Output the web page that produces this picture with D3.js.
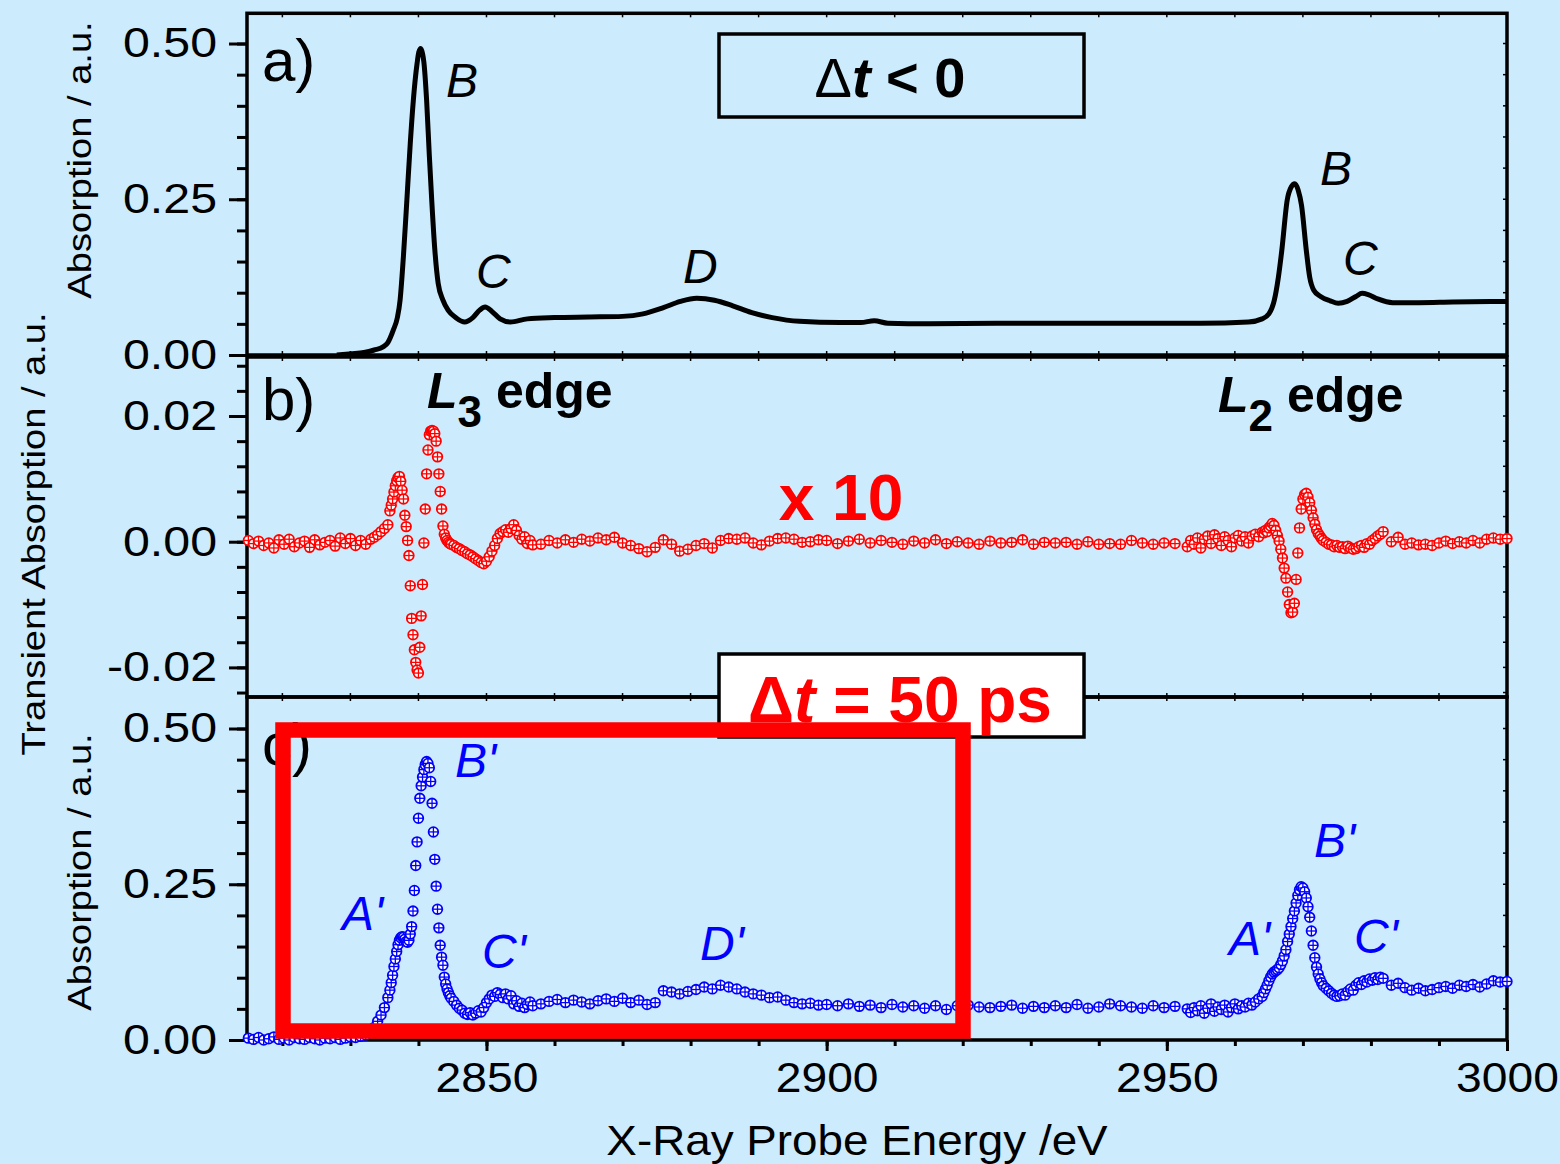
<!DOCTYPE html>
<html>
<head>
<meta charset="utf-8">
<script src="https://cdn.jsdelivr.net/npm/d3@7"></script>
<style>
  html, body { margin: 0; padding: 0; background: #ccebfc; }
  svg { display: block; }
  text { font-family: "Liberation Sans", Arial, sans-serif; }
</style>
</head>
<body>
<div id="vis"></div>
<script>
// ---- data ----

// panel a: static spectrum (dt < 0), black line
const refEnergy = [2828, 2830, 2832, 2833.5, 2834.8, 2835.5, 2836.3, 2836.9, 2837.3, 2837.8,
  2838.3, 2838.8, 2839.25, 2839.8, 2840.05, 2840.33, 2840.6, 2840.8, 2841.2, 2841.6,
  2841.95, 2842.4, 2842.9, 2843.6, 2844.35, 2845.5, 2846.8, 2848.0, 2849.0, 2849.8,
  2850.8, 2852.0, 2853.5, 2856.0, 2860.0, 2865.0, 2870.0, 2873.0, 2876.0, 2878.5,
  2880.9, 2883.5, 2886.2, 2889.0, 2892.0, 2896.0, 2902.0, 2905.0, 2907.0, 2909.0,
  2915.0, 2925.0, 2935.0, 2945.0, 2955.0, 2962.0, 2964.0, 2965.0, 2965.8, 2966.4,
  2966.9, 2967.7, 2968.3, 2968.8, 2969.3, 2969.8, 2970.5, 2971.0, 2971.6, 2972.6,
  2974.0, 2975.2, 2976.5, 2977.8, 2978.7, 2979.6, 2981.0, 2983.2, 2987.0, 2992.0, 3000.0];
const refAbsorption = [0.000, 0.002, 0.004, 0.008, 0.013, 0.020, 0.040, 0.060, 0.088, 0.160,
  0.249, 0.340, 0.409, 0.468, 0.486, 0.492, 0.484, 0.470, 0.409, 0.320,
  0.249, 0.170, 0.115, 0.088, 0.072, 0.060, 0.053, 0.060, 0.072, 0.077,
  0.070, 0.058, 0.053, 0.058, 0.060, 0.061, 0.062, 0.066, 0.076, 0.086,
  0.091, 0.088, 0.079, 0.068, 0.060, 0.054, 0.052, 0.052, 0.055, 0.051,
  0.050, 0.051, 0.051, 0.051, 0.051, 0.053, 0.058, 0.066, 0.088, 0.125,
  0.168, 0.249, 0.270, 0.275, 0.265, 0.240, 0.168, 0.125, 0.104, 0.094,
  0.087, 0.083, 0.086, 0.094, 0.099, 0.097, 0.090, 0.084, 0.084, 0.085, 0.086];

// panels b and c share the probe energies
const energy = [
  2815, 2815.75, 2816.5, 2817.25, 2818, 2818.75, 2819.5, 2820.25, 2821, 2821.75, 2822.5, 2823.25, 2824,
  2824.75, 2825.5, 2826.25, 2827, 2827.75, 2828.5, 2829.25, 2830, 2830.75, 2831.5, 2832.25, 2833,
  2833.5, 2834, 2834.5, 2835, 2835.5,
  2835.8, 2836.0, 2836.2, 2836.4, 2836.6, 2836.8, 2837.0, 2837.2, 2837.4, 2837.6,
  2837.8, 2838.0, 2838.2, 2838.4, 2838.6, 2838.8, 2839.0, 2839.2, 2839.4, 2839.6,
  2839.8, 2840.0, 2840.2, 2840.4, 2840.6, 2840.8, 2841.0, 2841.2, 2841.4, 2841.6,
  2841.8, 2842.0, 2842.2, 2842.4, 2842.6, 2842.8, 2843.0, 2843.2, 2843.4, 2843.6,
  2843.8, 2844.0, 2844.2, 2844.4, 2844.6, 2844.8,
  2845.2, 2845.6, 2846.0, 2846.4, 2846.8, 2847.2, 2847.6, 2848.0, 2848.4, 2848.8,
  2849.2, 2849.6, 2850.0, 2850.4, 2850.8, 2851.2, 2851.6, 2852.0, 2852.4, 2852.8,
  2853.2, 2853.6, 2854.0, 2854.4, 2854.8, 2855.2, 2855.6, 2856.0, 2856.4, 2856.8,
  2858.0, 2859.2, 2860.4, 2861.6, 2862.8, 2864.0, 2865.2, 2866.4, 2867.6, 2868.8,
  2870.0, 2871.2, 2872.4, 2873.6, 2874.8, 2876.0, 2877.2, 2878.4, 2879.6, 2880.8,
  2882.0, 2883.2, 2884.4, 2885.6, 2886.8, 2888.0, 2889.2, 2890.4, 2891.6, 2892.8,
  2894.0, 2895.2, 2896.4, 2897.6, 2898.8,
  2900.0, 2901.6, 2903.2, 2904.8, 2906.4, 2908.0, 2909.6, 2911.2, 2912.8, 2914.4,
  2916.0, 2917.6, 2919.2, 2920.8, 2922.4, 2924.0, 2925.6, 2927.2, 2928.8, 2930.4,
  2932.0, 2933.6, 2935.2, 2936.8, 2938.4, 2940.0, 2941.6, 2943.2, 2944.8, 2946.4,
  2948.0, 2949.6, 2951.2,
  2953.0, 2953.5, 2954.0, 2954.5, 2955.0, 2955.5, 2956.0, 2956.5, 2957.0, 2957.5,
  2958.0, 2958.5, 2959.0, 2959.5, 2960.0, 2960.5, 2961.0, 2961.5, 2962.0, 2962.5,
  2963.0, 2963.5, 2964.0,
  2964.25, 2964.5, 2964.75, 2965.0, 2965.25, 2965.5, 2965.75, 2966.0, 2966.25, 2966.5,
  2966.75, 2967.0, 2967.25, 2967.5, 2967.75, 2968.0, 2968.25, 2968.5, 2968.75, 2969.0,
  2969.25, 2969.5, 2969.75, 2970.0, 2970.25, 2970.5, 2970.75, 2971.0, 2971.25, 2971.5,
  2971.75, 2972.0, 2972.25, 2972.5, 2972.75, 2973.0,
  2973.4, 2973.8, 2974.2, 2974.6, 2975.0, 2975.4, 2975.8, 2976.2, 2976.6, 2977.0,
  2977.4, 2977.8, 2978.2, 2978.6, 2979.0, 2979.4, 2979.8, 2980.2, 2980.6, 2981.0,
  2981.4, 2981.8,
  2983, 2984, 2985, 2986, 2987, 2988, 2989, 2990, 2991, 2992, 2993, 2994, 2995, 2996, 2997, 2998, 2999, 3000
];

// panel b: transient absorption (x 10), red
const transient = [
  0.0002, -0.0003, 0.0001, -0.0006, -0.0002, -0.0010, 0.0003, -0.0004, 0.0004, -0.0008, -0.0002, 0.0001, -0.0009,
  0.0003, -0.0005, -0.0001, 0.0002, -0.0007, 0.0006, -0.0003, 0.0005, -0.0006, 0.0002, -0.0004, 0.0004,
  0.0007, 0.0011, 0.0016, 0.0021, 0.0027,
  0.0049, 0.0058, 0.0068, 0.0079, 0.0089, 0.0097, 0.0102, 0.0104, 0.0096, 0.0082,
  0.0068, 0.0042, 0.0024, 0.0002, -0.0022, -0.0070, -0.0122, -0.0148, -0.0172, -0.0192,
  -0.0204, -0.0209, -0.0168, -0.0118, -0.0068, -0.0002, 0.0052, 0.0108, 0.0146, 0.0170,
  0.0176, 0.0177, 0.0176, 0.0172, 0.0160, 0.0135, 0.0108, 0.0080, 0.0052, 0.0025,
  0.0012, 0.0006, 0.0002, -0.0001, -0.0003, -0.0004,
  -0.0006, -0.0009, -0.0011, -0.0014, -0.0016, -0.0019, -0.0021, -0.0024, -0.0027, -0.0030,
  -0.0033, -0.0035, -0.0031, -0.0024, -0.0015, -0.0006, 0.0005, 0.0013, 0.0016, 0.0019,
  0.0015, 0.0021, 0.0027, 0.0018, 0.0010, 0.0004, 0.0008, -0.0003, 0.0002, -0.0005,
  -0.0004, 0.0002, -0.0002, 0.0003, -0.0001, 0.0004, 0.0001, 0.0006, 0.0003, 0.0007,
  -0.0002, -0.0006, -0.0011, -0.0016, -0.0009, 0.0003, -0.0004, -0.0015, -0.0012, -0.0006,
  -0.0003, -0.0010, 0.0002, 0.0005, 0.0004, 0.0006, -0.0002, -0.0005, 0.0001, 0.0005,
  0.0006, 0.0004, -0.0001, 0.0000, 0.0003,
  0.0002, -0.0003, 0.0001, 0.0004, -0.0002, 0.0002, -0.0001, -0.0004, 0.0001, -0.0002,
  0.0003, -0.0003, 0.0000, -0.0002, -0.0004, 0.0001, -0.0002, -0.0001, 0.0003, -0.0004,
  -0.0001, -0.0002, -0.0001, -0.0004, 0.0000, -0.0004, -0.0003, -0.0004, 0.0002, -0.0002,
  -0.0004, -0.0002, -0.0003,
  -0.0008, 0.0002, -0.0004, 0.0006, -0.0010, 0.0004, 0.0009, -0.0003, 0.0011, 0.0005,
  -0.0006, 0.0008, 0.0002, -0.0008, 0.0006, 0.0010, 0.0001, 0.0008, -0.0002, 0.0009,
  0.0012, 0.0008, 0.0015,
  0.0014, 0.0018, 0.0016, 0.0022, 0.0025, 0.0029, 0.0026, 0.0018, 0.0010, 0.0001,
  -0.0012, -0.0026, -0.0042, -0.0058, -0.0080, -0.0100, -0.0113, -0.0112, -0.0098, -0.0060,
  -0.0018, 0.0022, 0.0052, 0.0068, 0.0075, 0.0077, 0.0071, 0.0062, 0.0050, 0.0038,
  0.0028, 0.0019, 0.0013, 0.0009, 0.0005, 0.0002,
  -0.0001, -0.0004, -0.0005, -0.0008, -0.0006, -0.0009, -0.0008, -0.0011, -0.0007, -0.0010,
  -0.0012, -0.0011, -0.0008, -0.0006, -0.0009, -0.0003, -0.0004, 0.0002, 0.0005, 0.0009,
  0.0012, 0.0016,
  0.0000, 0.0007, -0.0004, -0.0002, -0.0005, -0.0004, -0.0006, -0.0002, 0.0001, -0.0003, 0.0000, -0.0002, 0.0002, -0.0002, 0.0004, 0.0006, 0.0004, 0.0005
];

// panel c: absorption at dt = 50 ps, blue
const excited = [
  0.003, 0.001, 0.004, 0.000, 0.002, 0.005, 0.001, 0.003, 0.000, 0.004, 0.002, 0.001, 0.004,
  0.002, 0.000, 0.003, 0.002, 0.004, 0.001, 0.003, 0.005, 0.004, 0.006, 0.008, 0.012,
  0.020, 0.030, 0.040, 0.052, 0.068,
  0.080, 0.092, 0.104, 0.118, 0.130, 0.142, 0.153, 0.160, 0.164, 0.166,
  0.165, 0.162, 0.158, 0.157, 0.160, 0.170, 0.182, 0.207, 0.240, 0.280,
  0.318, 0.356, 0.388, 0.408, 0.422, 0.434, 0.442, 0.447, 0.444, 0.437,
  0.415, 0.380, 0.334, 0.290, 0.247, 0.210, 0.180, 0.152, 0.133, 0.120,
  0.101, 0.090, 0.082, 0.076, 0.071, 0.067,
  0.062, 0.056, 0.051, 0.048, 0.043, 0.041, 0.044, 0.040, 0.043, 0.047,
  0.045, 0.052, 0.060, 0.066, 0.072, 0.070, 0.076, 0.073, 0.068, 0.074,
  0.066, 0.071, 0.058, 0.063, 0.054, 0.059, 0.052, 0.057, 0.061, 0.055,
  0.058, 0.062, 0.065, 0.060, 0.064, 0.061, 0.058, 0.063, 0.066, 0.062,
  0.067, 0.060, 0.064, 0.057, 0.060, 0.079, 0.077, 0.074, 0.078, 0.081,
  0.085, 0.082, 0.088, 0.085, 0.082, 0.077, 0.074, 0.072, 0.068, 0.069,
  0.064, 0.060, 0.058, 0.059, 0.056,
  0.057, 0.055, 0.058, 0.054, 0.056, 0.052, 0.057, 0.053, 0.055, 0.051,
  0.055, 0.049, 0.055, 0.056, 0.053, 0.052, 0.054, 0.056, 0.051, 0.054,
  0.052, 0.055, 0.052, 0.057, 0.051, 0.053, 0.058, 0.055, 0.053, 0.051,
  0.055, 0.052, 0.054,
  0.050, 0.044, 0.052, 0.047, 0.055, 0.043, 0.051, 0.058, 0.046, 0.053,
  0.049, 0.056, 0.045, 0.052, 0.058, 0.050, 0.055, 0.053, 0.059, 0.056,
  0.061, 0.066, 0.070,
  0.076, 0.082, 0.088, 0.095, 0.101, 0.106, 0.109, 0.111, 0.113, 0.116,
  0.121, 0.127, 0.135, 0.145, 0.158, 0.170, 0.182, 0.195, 0.207, 0.220,
  0.232, 0.241, 0.246, 0.244, 0.238, 0.228, 0.214, 0.197, 0.175, 0.152,
  0.132, 0.117, 0.106, 0.098, 0.092, 0.087,
  0.083, 0.079, 0.075, 0.072, 0.070, 0.071, 0.074, 0.072, 0.078, 0.082,
  0.080, 0.088, 0.092, 0.089, 0.095, 0.093, 0.098, 0.096, 0.100, 0.097,
  0.101, 0.099,
  0.088, 0.091, 0.084, 0.080, 0.083, 0.079, 0.081, 0.084, 0.086, 0.083, 0.088, 0.086, 0.089, 0.085, 0.090, 0.095, 0.093, 0.094
];

const xTicks = [2850, 2900, 2950, 3000];
const absTicks = [0, 0.25, 0.5];
const transTicks = [-0.02, 0, 0.02];

if (energy.length !== transient.length || energy.length !== excited.length) {
    console.error("length mismatch", energy.length, transient.length, excited.length);
}

// ---- layout ----
const W = 1560, H = 1164;
const bg = "#ccebfc";
const plotLeft = 247, plotRight = 1507;

const svg = d3.select("#vis").append("svg")
    .attr("width", W)
    .attr("height", H);

svg.append("rect").attr("width", W).attr("height", H).attr("fill", bg);

const x = d3.scaleLinear().domain([2814.8, 3000]).range([plotLeft, plotRight]);
const xMinor = d3.range(2820, 3001, 10);

const panels = [
    { key: "a", top: 13.3, bottom: 355, domain: [0, 0.5485], ticks: absTicks, minor: d3.range(0, 0.55, 0.05), letter: "a)", letterY: 81 },
    { key: "b", top: 357, bottom: 697, domain: [-0.02471, 0.02939], ticks: transTicks, minor: d3.range(-0.024, 0.0285, 0.004), letter: "b)", letterY: 420 },
    { key: "c", top: 697, bottom: 1040, domain: [0, 0.5506], ticks: absTicks, minor: d3.range(0, 0.55, 0.05), letter: "c)", letterY: 765 }
];
panels.forEach(p => {
    p.y = d3.scaleLinear().domain(p.domain).range([p.bottom, p.top]);
});

const fmt = d => d3.format(".2f")(d).replace("\u2212", "-");

// stretch text horizontally a bit, the original fonts are wider than Arial
function widen(sel, k) {
    sel.each(function() {
        const w = this.getComputedTextLength();
        d3.select(this).attr("textLength", w * k).attr("lengthAdjust", "spacingAndGlyphs");
    });
}

panels.forEach(p => {
    const g = svg.append("g").attr("class", "panel-" + p.key);

    // tiny inside ticks on top / right / bottom
    const mirror = g.append("g").attr("stroke", "#000").attr("stroke-width", 1.5);
    mirror.selectAll(".tt").data(xMinor).enter().append("line")
        .attr("x1", d => x(d)).attr("x2", d => x(d))
        .attr("y1", p.top).attr("y2", p.top + 4);
    if (p.key !== "c") {
        mirror.selectAll(".tb").data(xMinor).enter().append("line")
            .attr("x1", d => x(d)).attr("x2", d => x(d))
            .attr("y1", p.bottom).attr("y2", p.bottom - 4);
    }
    mirror.selectAll(".tr").data(p.minor).enter().append("line")
        .attr("x1", plotRight).attr("x2", plotRight - 4)
        .attr("y1", d => p.y(d)).attr("y2", d => p.y(d));

    // left axis, minor then major
    const minorAxis = g.append("g")
        .attr("transform", `translate(${plotLeft},0)`)
        .call(d3.axisLeft(p.y).tickValues(p.minor).tickSize(10).tickFormat(""));
    minorAxis.select(".domain").remove();
    minorAxis.selectAll("line").attr("stroke-width", 3);

    const majorAxis = g.append("g")
        .attr("transform", `translate(${plotLeft},0)`)
        .call(d3.axisLeft(p.y).tickValues(p.ticks).tickSize(18).tickPadding(12).tickFormat(fmt));
    majorAxis.select(".domain").remove();
    majorAxis.selectAll("line").attr("stroke-width", 3);
    majorAxis.selectAll("text")
        .attr("fill", "#000")
        .style("font-family", "Liberation Sans, Arial, sans-serif")
        .style("font-size", "42px")
        .call(widen, 1.15);

    // frame
    g.append("rect")
        .attr("x", plotLeft).attr("y", p.top)
        .attr("width", plotRight - plotLeft).attr("height", p.bottom - p.top)
        .attr("fill", "none").attr("stroke", "#000").attr("stroke-width", 3.5);

    g.append("text")
        .attr("x", 262).attr("y", p.letterY)
        .style("font-size", "60px")
        .text(p.letter);
});

// bottom x axis on panel c
const pc = panels[2];
const xMinorAxis = svg.append("g")
    .attr("transform", `translate(0,${pc.bottom})`)
    .call(d3.axisBottom(x).tickValues(xMinor).tickSize(6).tickFormat(""));
xMinorAxis.select(".domain").remove();
xMinorAxis.selectAll("line").attr("stroke-width", 3);

const xAxis = svg.append("g")
    .attr("transform", `translate(0,${pc.bottom})`)
    .call(d3.axisBottom(x).tickValues(xTicks).tickSize(11).tickPadding(11).tickFormat(d3.format("d")));
xAxis.select(".domain").remove();
xAxis.selectAll("line").attr("stroke-width", 3);
xAxis.selectAll("text")
    .attr("fill", "#000")
    .style("font-family", "Liberation Sans, Arial, sans-serif")
    .style("font-size", "42px")
    .call(widen, 1.1);

// axis titles
svg.append("text")
    .attr("x", 857).attr("y", 1155)
    .attr("text-anchor", "middle")
    .style("font-size", "42px")
    .text("X-Ray Probe Energy /eV")
    .call(widen, 1.09);

function yTitle(label, cx, cy, size, k) {
    svg.append("text")
        .attr("transform", `translate(${cx},${cy}) rotate(-90)`)
        .attr("text-anchor", "middle")
        .style("font-size", size + "px")
        .text(label)
        .call(widen, k);
}
yTitle("Absorption / a.u.", 91, 160, 34, 1.12);
yTitle("Transient Absorption / a.u.", 45, 534, 34, 1.12);
yTitle("Absorption / a.u.", 91, 872, 34, 1.12);

// ---- panel a line ----
const pa = panels[0];
const refLine = d3.line()
    .x((d, i) => x(refEnergy[i]))
    .y(d => pa.y(d))
    .curve(d3.curveMonotoneX);

svg.append("path")
    .datum(refAbsorption)
    .attr("d", refLine)
    .attr("fill", "none")
    .attr("stroke", "#000")
    .attr("stroke-width", 5)
    .attr("stroke-linejoin", "round");

// ---- scatter with error-bar style markers ----
function markers(values, y, color) {
    const pts = values.map((v, i) => ({ e: energy[i], v: v }));
    const g = svg.append("g");
    const m = g.selectAll("g").data(pts).enter().append("g")
        .attr("transform", d => `translate(${x(d.e)},${y(d.v)})`);
    m.append("circle").attr("r", 4.8)
        .attr("fill", "#fff").attr("stroke", color).attr("stroke-width", 1.8);
    m.append("line").attr("x1", -4.8).attr("x2", 4.8)
        .attr("stroke", color).attr("stroke-width", 1.3);
    m.append("line").attr("y1", -4.8).attr("y2", 4.8)
        .attr("stroke", color).attr("stroke-width", 1.3);
}
markers(transient, panels[1].y, "#ff0000");
markers(excited, pc.y, "#0000ff");

// ---- annotations ----
function note(txt, xx, yy, color, size) {
    svg.append("text")
        .attr("x", xx).attr("y", yy)
        .attr("fill", color)
        .style("font-size", size + "px")
        .style("font-style", "italic")
        .text(txt);
}
note("B", 446, 97, "#000", 48);
note("C", 476, 288, "#000", 48);
note("D", 683, 283, "#000", 48);
note("B", 1320, 185, "#000", 48);
note("C", 1343, 275, "#000", 48);

note("B'", 455, 777, "#0000ff", 48);
note("A'", 342, 930, "#0000ff", 48);
note("C'", 482, 968, "#0000ff", 48);
note("D'", 700, 960, "#0000ff", 48);
note("B'", 1314, 857, "#0000ff", 48);
note("A'", 1229, 955, "#0000ff", 48);
note("C'", 1354, 953, "#0000ff", 48);

function edgeLabel(xx, yy, sub) {
    const t = svg.append("text")
        .attr("x", xx).attr("y", yy)
        .style("font-size", "50px")
        .style("font-weight", "bold");
    t.append("tspan").style("font-style", "italic").text("L");
    t.append("tspan").attr("dy", 19).style("font-size", "44px").text(sub);
    t.append("tspan").attr("dy", -19).text(" edge");
}
edgeLabel(427, 408, "3");
edgeLabel(1218, 412, "2");

svg.append("text")
    .attr("x", 841).attr("y", 520)
    .attr("text-anchor", "middle")
    .attr("fill", "#ff0000")
    .style("font-size", "64px")
    .style("font-weight", "bold")
    .text("x 10");

// dt < 0 box
svg.append("rect")
    .attr("x", 719).attr("y", 34).attr("width", 365).attr("height", 83)
    .attr("fill", "none").attr("stroke", "#000").attr("stroke-width", 3.5);
const t0 = svg.append("text")
    .attr("x", 890).attr("y", 97)
    .attr("text-anchor", "middle")
    .style("font-size", "56px")
    .style("font-weight", "bold");
t0.append("tspan").style("font-weight", "normal").text("\u0394");
t0.append("tspan").style("font-style", "italic").text("t");
t0.append("tspan").text(" < 0");

// dt = 50 ps box
svg.append("rect")
    .attr("x", 719).attr("y", 654).attr("width", 365).attr("height", 83)
    .attr("fill", "#fff").attr("stroke", "#000").attr("stroke-width", 3.5);
const t1 = svg.append("text")
    .attr("x", 900).attr("y", 722)
    .attr("text-anchor", "middle")
    .attr("fill", "#ff0000")
    .style("font-size", "64px")
    .style("font-weight", "bold");
t1.append("tspan").text("\u0394");
t1.append("tspan").style("font-style", "italic").text("t");
t1.append("tspan").text(" = 50 ps");

// highlight frame
svg.append("rect")
    .attr("x", 283).attr("y", 730).attr("width", 680).attr("height", 301)
    .attr("fill", "none").attr("stroke", "#ff0000").attr("stroke-width", 15.5);
</script>
</body>
</html>
